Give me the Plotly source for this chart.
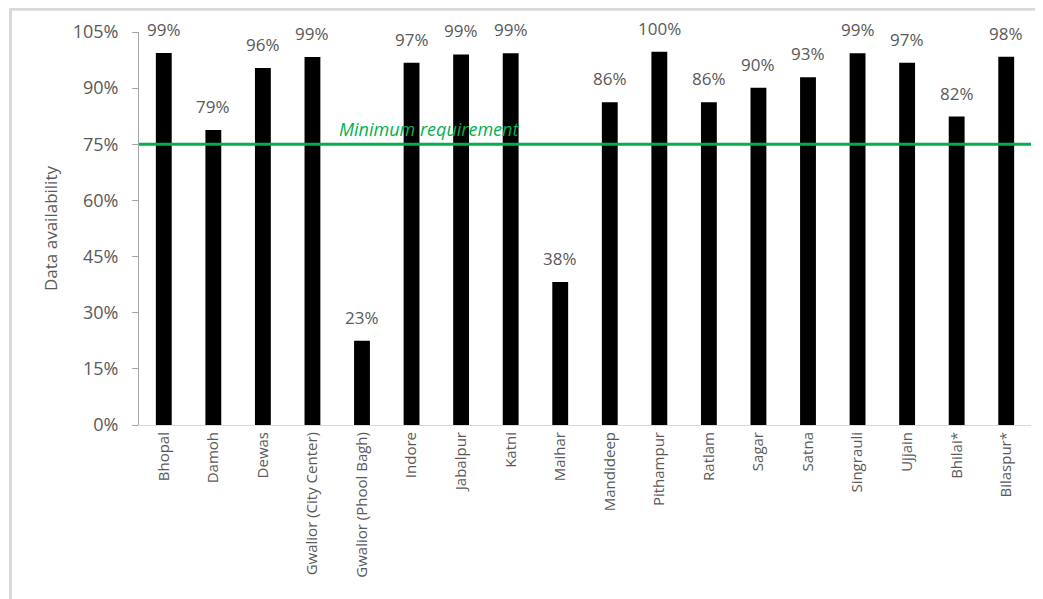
import plotly.graph_objects as go

# =========================================================================
# Data
# =========================================================================
stations = [
    "Bhopal", "Damoh", "Dewas", "Gwalior (City Center)", "Gwalior (Phool Bagh)",
    "Indore", "Jabalpur", "Katni", "Maihar", "Mandideep", "Pithampur", "Ratlam",
    "Sagar", "Satna", "Singrauli", "Ujjain", "Bhilai*", "Bilaspur*",
]
availability = [
    99.4, 78.8, 95.4, 98.3, 22.5, 96.8, 99.0, 99.3, 38.2,
    86.2, 99.7, 86.2, 90.1, 92.9, 99.3, 96.8, 82.4, 98.4,
]
labels = [
    "99%", "79%", "96%", "99%", "23%", "97%", "99%", "99%", "38%",
    "86%", "100%", "86%", "90%", "93%", "99%", "97%", "82%", "98%",
]
minimum_requirement = 75
y_ticks = [0, 15, 30, 45, 60, 75, 90, 105]

FONT = "Open Sans"
GREY = "#595959"
GREEN = "#00B050"

fig = go.Figure()

fig.add_trace(
    go.Bar(
        x=stations,
        y=availability,
        marker=dict(color="black", line=dict(width=0)),
        showlegend=False,
        hoverinfo="x+y",
    )
)

# Data labels above each bar
for station, value, label in zip(stations, availability, labels):
    fig.add_annotation(
        x=station, y=value,
        xref="x", yref="y",
        text=label,
        showarrow=False,
        yanchor="bottom",
        yshift=10,
        font=dict(family=FONT, size=17, color=GREY),
    )

# Minimum requirement line
fig.add_shape(
    type="line",
    xref="paper", yref="y",
    x0=0, x1=1,
    y0=minimum_requirement, y1=minimum_requirement,
    line=dict(color=GREEN, width=3),
)
fig.add_annotation(
    x=3.5, y=minimum_requirement,
    xref="x", yref="y",
    text="<i>Minimum requirement</i>",
    showarrow=False,
    xanchor="left", yanchor="bottom",
    yshift=1,
    font=dict(family=FONT, size=18, color=GREEN),
)

# Chart border (left/top edges visible)
fig.add_shape(
    type="rect", xref="paper", yref="paper",
    x0=-0.144, x1=1.015, y0=1.058, y1=-0.45,
    line=dict(color="#D9D9D9", width=3),
    layer="below",
)

fig.update_layout(
    width=1035,
    height=591,
    margin=dict(l=131, r=12, t=24, b=174),
    plot_bgcolor="white",
    paper_bgcolor="white",
    bargap=0.68,
    font=dict(family=FONT, color=GREY),
)

fig.update_xaxes(
    type="category",
    tickangle=-90,
    tickfont=dict(family=FONT, size=15, color=GREY),
    showline=True,
    linecolor="#D9D9D9",
    linewidth=1,
    ticks="",
    showgrid=False,
)
fig.update_yaxes(
    range=[0, 105],
    tickvals=y_ticks,
    ticktext=[f"{v}%" for v in y_ticks],
    tickfont=dict(family=FONT, size=18, color=GREY),
    ticklabelstandoff=10,
    showline=True,
    linecolor="#A6A6A6",
    linewidth=1,
    ticks="outside",
    tickcolor="#A6A6A6",
    ticklen=6,
    showgrid=False,
    zeroline=False,
    title=dict(text="Data availability", font=dict(family=FONT, size=17, color=GREY), standoff=10),
)

fig.write_html("out.html")
